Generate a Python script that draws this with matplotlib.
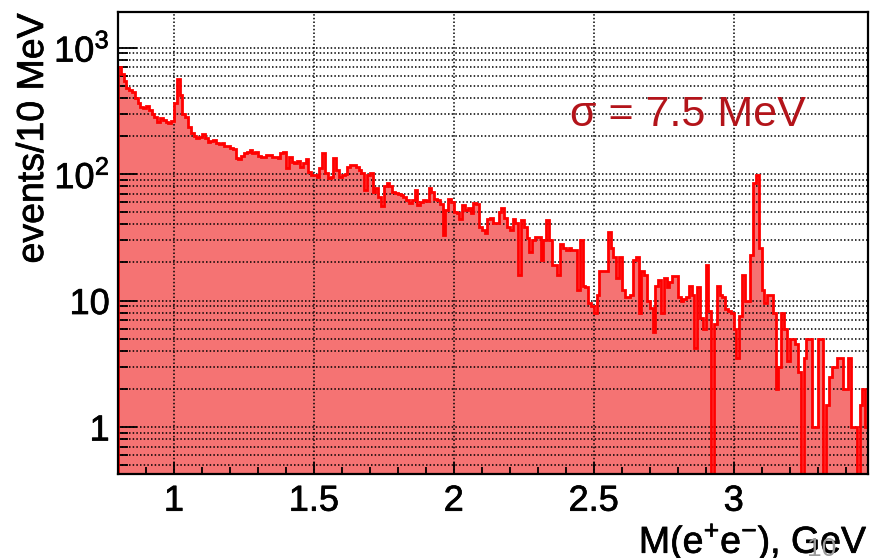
import numpy as np
import matplotlib.pyplot as plt
import matplotlib.patheffects as pe

plt.rcParams['font.family'] = ['Liberation Sans', 'DejaVu Sans']
plt.rcParams['mathtext.fontset'] = 'custom'
plt.rcParams['mathtext.rm'] = 'Liberation Sans'
plt.rcParams['mathtext.it'] = 'Liberation Sans:italic'

# Invariant mass spectrum, 10 MeV bins from 0.80 GeV
m_lo = 0.80
bin_w = 0.01
counts = [
    708, 620, 545, 480, 464, 448, 400, 365, 340, 334,
    345, 320, 300, 283, 259, 278, 268, 258, 253, 262,
    365, 560, 420, 300, 283, 237, 211, 200, 193, 197,
    207, 193, 179, 183, 186, 176, 173, 175, 167, 168,
    161, 158, 135, 132, 138, 146, 150, 155, 146, 149,
    140, 137, 137, 141, 141, 137, 137, 134, 146, 148,
    112, 137, 124, 122, 127, 114, 122, 131, 104, 98,
    98, 95, 111, 146, 101, 93, 94, 134, 108, 95,
    98, 100, 114, 118, 118, 114, 108, 101, 75, 98,
    101, 72, 78, 66, 56, 80, 85, 80, 72, 71,
    70, 68, 66, 62, 59, 62, 75, 57, 60, 62,
    61, 78, 72, 64, 62, 58, 33, 52, 64, 60,
    50, 49, 44, 57, 52, 54, 49, 59, 58, 38,
    36, 34, 44, 45, 41, 41, 50, 54, 45, 38,
    36, 44, 41, 16, 43, 38, 31, 24, 30, 32,
    32, 21, 30, 43, 30, 19, 19, 16, 28, 26,
    25, 26, 25, 25, 12, 30, 13, 12.7, 9.5, 9,
    7.9, 11, 17, 17, 17, 35, 26, 22, 15, 22,
    12, 10.6, 10.6, 11, 21, 22, 8, 17, 16, 10,
    8.8, 5.6, 13, 14.5, 8, 15, 12.7, 14, 15.5, 15.5,
    10.6, 10, 10.3, 10.6, 13, 11, 4.2, 12.7, 7.3, 6,
    19, 8.3, 0, 6.5, 13, 11, 10.6, 8.6, 8.3, 8,
    6, 3.5, 7.6, 16, 10, 10, 23, 85, 98, 26,
    12, 9.5, 11, 11, 8, 2, 3, 8, 6, 3.3,
    5, 5, 4.5, 2.7, 0, 3.5, 5, 5, 1, 1,
    5, 5, 0, 1.5, 2.5, 3, 3, 3.5, 3.5, 2,
    2, 3.5, 1, 1, 0, 1.5, 2, 1,
]

x_major = [1, 1.5, 2, 2.5, 3]
x_labels = ['1', '1.5', '2', '2.5', '3']
y_major = [1, 10, 100, 1000]
y_labels = ['1', '10', r'$\mathregular{10^{2}}$', r'$\mathregular{10^{3}}$']

vals = np.array(counts, dtype=float)
edges = m_lo + bin_w * np.arange(len(vals) + 1)
# empty bins are pushed below the axis so the outline drops to the frame
plot_vals = np.where(vals > 0, vals, 1e-3)

fig = plt.figure(figsize=(8.71, 5.58), dpi=100)
ax = fig.add_axes([118 / 871, 84 / 558, 750 / 871, 462 / 558])

ax.stairs(plot_vals, edges, baseline=1e-3, fill=True, color='#f57373', lw=0, zorder=1)
ax.stairs(plot_vals, edges, baseline=1e-3, color='#ff0000', lw=2.0, zorder=3)

ax.set_yscale('log')
ax.set_xlim(0.80, 3.48)
ax.set_ylim(0.425, 1910)

ax.set_xticks(x_major)
ax.set_xticklabels(x_labels)
ax.set_xticks(np.arange(0.8, 3.45, 0.1), minor=True)
ax.set_yticks(y_major)
ax.set_yticklabels(y_labels)
ax.set_yticks([s * 10.0 ** d for d in range(-1, 4) for s in range(2, 10)
               if 0.425 <= s * 10.0 ** d <= 1910], minor=True)
ax.yaxis.set_minor_formatter(plt.NullFormatter())

ax.tick_params(axis='both', which='both', direction='in', labelsize=26,
               color='black', width=1.3)
ax.tick_params(axis='y', which='major', length=14, pad=6)
ax.tick_params(axis='y', which='minor', length=7)
ax.tick_params(axis='x', which='major', length=9, pad=7)
ax.tick_params(axis='x', which='minor', length=5)

ax.set_axisbelow('line')
grid_kw = dict(color='black', lw=1.1, linestyle=(0, (1, 1.4)))
ax.grid(True, which='major', axis='x', **grid_kw)
ax.grid(True, which='both', axis='y', **grid_kw)

for sp in ax.spines.values():
    sp.set_linewidth(1.6)
    sp.set_zorder(4)

heavy = [pe.withStroke(linewidth=0.5, foreground='black')]
for lab in ax.get_xticklabels() + ax.get_yticklabels():
    lab.set_path_effects(heavy)

fig.text(33 / 871, 1 - 13 / 558, 'events/10 MeV', rotation=90,
         ha='center', va='top', fontsize=27, path_effects=heavy)
fig.text(868 / 871, 1 - 553 / 558, r'M(e$^{+}$e$^{-}$), GeV',
         ha='right', va='baseline', fontsize=27, path_effects=heavy)
fig.text(570 / 871, 1 - 115 / 558, 'σ = 7.5 MeV', color='#b3141a',
         ha='left', va='center', fontsize=31)
fig.text(822 / 871, 1 - 549 / 558, '10', color='#9a9a9a',
         ha='center', va='center', fontsize=19)

fig.savefig('out.png', dpi=100)
